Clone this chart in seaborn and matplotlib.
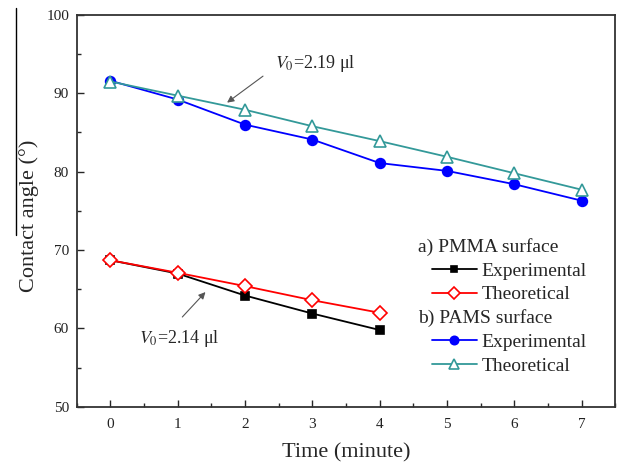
import matplotlib
matplotlib.use("Agg")
import matplotlib.pyplot as plt
import seaborn as sns
import pandas as pd
from matplotlib.lines import Line2D
from matplotlib.ticker import MultipleLocator

sns.set_style("white")
plt.rcParams['font.family'] = ['Liberation Serif', 'DejaVu Serif']
plt.rcParams['mathtext.fontset'] = 'stix'

time_pmma = [0, 1, 2, 3, 4]
pmma_exp = [68.7, 67.0, 64.2, 61.9, 59.8]
pmma_theo = [68.7, 67.1, 65.4, 63.6, 62.0]
time_pams = [0, 1, 2, 3, 4, 5, 6, 7]
pams_exp = [91.6, 89.2, 86.0, 84.1, 81.1, 80.1, 78.4, 76.3]
pams_theo = [91.5, 89.7, 87.9, 85.8, 83.9, 81.9, 79.8, 77.7]

fig = plt.figure(figsize=(6.19, 4.66), dpi=100)
ax = fig.add_axes([0.124, 0.127, 0.870, 0.841])

specs = [
    (time_pmma, pmma_exp, 'black', 's', 'black', 6),
    (time_pmma, pmma_theo, 'red', 'D', 'white', 7),
    (time_pams, pams_exp, 'blue', 'o', 'blue', 7),
    (time_pams, pams_theo, '#339999', '^', 'white', 8),
]
handles = []
for t, v, c, m, fc, ms in specs:
    df = pd.DataFrame({'t': t, 'v': v})
    sns.lineplot(data=df, x='t', y='v', ax=ax, color=c, marker=m, markersize=ms,
                 markerfacecolor=fc, markeredgecolor=c, markeredgewidth=1.2, linewidth=1.3)
    handles.append(Line2D([], [], color=c, marker=m, markersize=ms - 1, markerfacecolor=fc,
                          markeredgecolor=c, markeredgewidth=1.2, linewidth=1.3))

blank = Line2D([], [], linestyle='none', marker='none')
leg_handles = [blank, handles[0], handles[1], blank, handles[2], handles[3]]
leg_labels = ['a) PMMA surface', 'Experimental', 'Theoretical', 'b) PAMS surface', 'Experimental', 'Theoretical']
leg = ax.legend(leg_handles, leg_labels, loc='upper left', bbox_to_anchor=(0.645, 0.45),
                frameon=False, fontsize=14, handlelength=2.3, labelspacing=0.31,
                handletextpad=0.26, borderaxespad=0)
for i in (0, 3):
    leg.get_texts()[i].set_position((-64, 0))

ax.set_xlim(-0.5, 7.5)
ax.set_ylim(50, 100)
ax.xaxis.set_major_locator(MultipleLocator(1))
ax.xaxis.set_minor_locator(MultipleLocator(0.5))
ax.yaxis.set_major_locator(MultipleLocator(10))
ax.yaxis.set_minor_locator(MultipleLocator(5))
ax.tick_params(which='both', direction='in', top=False, right=False, left=True, bottom=True,
               labelsize=11, labelcolor='#222222')
ax.tick_params(axis='x', which='both', pad=8)
ax.tick_params(axis='y', which='both', pad=5.5)
ax.tick_params(which='major', length=5, width=1)
ax.tick_params(which='minor', length=3, width=1)
for s in ax.spines.values():
    s.set_linewidth(1.3)
    s.set_color('#333333')

ax.set_xlabel('Time (minute)', fontsize=16, labelpad=9)
ax.set_ylabel('Contact angle (°)', fontsize=16)
ax.yaxis.set_label_coords(-0.07, 0.487)

ax.annotate('', xy=(1.7, 88.6), xytext=(2.3, 92.4),
            arrowprops=dict(arrowstyle='-|>', color='#555555', lw=0.8, mutation_scale=10))
ax.text(2.45, 92.5, r'$V_0$=2.19 μl', fontsize=13, va='bottom', ha='left')
ax.annotate('', xy=(1.44, 64.9), xytext=(1.04, 61.2),
            arrowprops=dict(arrowstyle='-|>', color='#555555', lw=0.8, mutation_scale=10))
ax.text(0.42, 57.4, r'$V_0$=2.14 μl', fontsize=13, va='bottom', ha='left')

# thin vertical line at the left edge of the original picture
fig.add_artist(Line2D([16 / 619, 16 / 619], [1 - 8 / 466, 1 - 235 / 466],
                      transform=fig.transFigure, color='black', lw=1))

fig.savefig('out.png', dpi=100)
